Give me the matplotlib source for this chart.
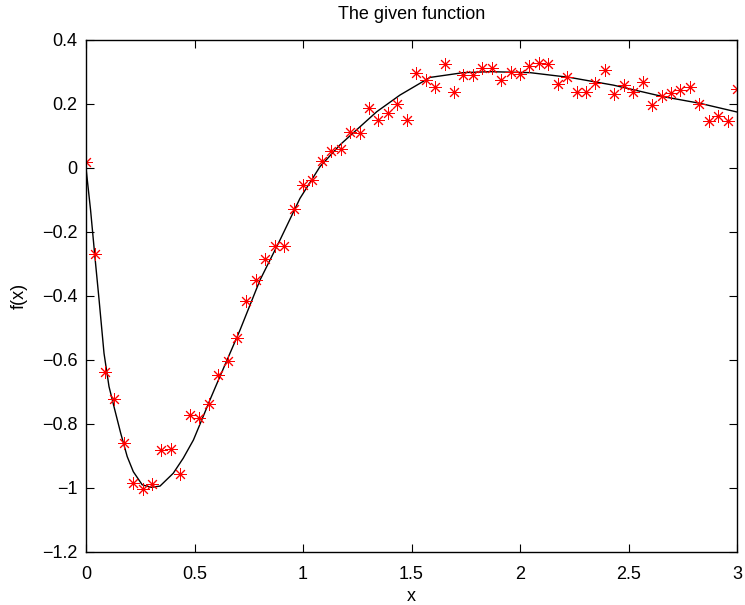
import numpy as np
import matplotlib
matplotlib.use("Agg")
import matplotlib.pyplot as plt
from matplotlib.ticker import FuncFormatter

plt.rcParams['font.family'] = ['Liberation Sans', 'DejaVu Sans']

# noisy samples (70 equally spaced points on [0, 3])
x_data = np.linspace(0, 3, 70)
y_data = [0.018, -0.269, -0.636, -0.721, -0.860, -0.985, -1.003, -0.989, -0.881, -0.878,
          -0.957, -0.772, -0.780, -0.739, -0.647, -0.603, -0.532, -0.415, -0.350, -0.284,
          -0.244, -0.244, -0.129, -0.053, -0.0375, 0.023, 0.054, 0.059, 0.111, 0.108,
          0.186, 0.150, 0.173, 0.200, 0.150, 0.296, 0.275, 0.252, 0.325, 0.238,
          0.291, 0.291, 0.311, 0.313, 0.275, 0.301, 0.294, 0.319, 0.327, 0.325,
          0.261, 0.285, 0.238, 0.238, 0.267, 0.306, 0.230, 0.259, 0.237, 0.270,
          0.196, 0.225, 0.235, 0.244, 0.252, 0.200, 0.148, 0.163, 0.148, 0.246]

# the given function
x_curve = [0.0, 0.021, 0.041, 0.06, 0.083, 0.106, 0.129, 0.16, 0.19, 0.218, 0.259, 0.30,
           0.341, 0.402, 0.448, 0.495, 0.533, 0.571, 0.61, 0.71, 0.802, 0.894, 0.986,
           1.078, 1.17, 1.263, 1.34, 1.447, 1.585, 1.739, 1.862, 2.046, 2.23, 2.43,
           2.66, 2.83, 3.0]
y_curve = [0.0, -0.131, -0.277, -0.41, -0.579, -0.683, -0.746, -0.829, -0.902, -0.949,
           -0.99, -0.998, -0.994, -0.954, -0.907, -0.85, -0.788, -0.725, -0.663, -0.506,
           -0.35, -0.225, -0.095, 0.004, 0.072, 0.129, 0.176, 0.228, 0.283, 0.298, 0.301,
           0.298, 0.283, 0.259, 0.223, 0.202, 0.175]

x_ticks = [0, 0.5, 1, 1.5, 2, 2.5, 3]
y_ticks = [-1.2, -1.0, -0.8, -0.6, -0.4, -0.2, 0, 0.2, 0.4]

fig = plt.figure(figsize=(7.45, 6.05), dpi=100)
ax = fig.add_axes([86/745, 1 - 552/605, (737-86)/745, (552-40)/605])

ax.plot(x_curve, y_curve, color='black', linewidth=1.0)
ax.plot(x_data, y_data, linestyle='none', marker=(8, 2, 0), markersize=9,
        markeredgecolor='red', markerfacecolor='red', markeredgewidth=0.7)

ax.set_xlim(0, 3)
ax.set_ylim(-1.2, 0.4)
ax.set_xticks(x_ticks)
ax.set_yticks(y_ticks)

def fmt(v, pos):
    s = "%g" % round(v, 6)
    return s.replace('-', '\u2212')

ax.xaxis.set_major_formatter(FuncFormatter(fmt))
ax.yaxis.set_major_formatter(FuncFormatter(fmt))
ax.tick_params(direction='in', top=True, right=True, length=6, width=0.8,
               labelsize=13)
ax.tick_params(axis='x', pad=10)
ax.tick_params(axis='y', pad=6)
for sp in ax.spines.values():
    sp.set_linewidth(1.0)

ax.set_xlabel('x', fontsize=13, labelpad=4)
ax.set_ylabel('f(x)', fontsize=13, labelpad=10)
ax.set_title('The given function', fontsize=13, pad=15)

fig.savefig('out.png', dpi=100)
